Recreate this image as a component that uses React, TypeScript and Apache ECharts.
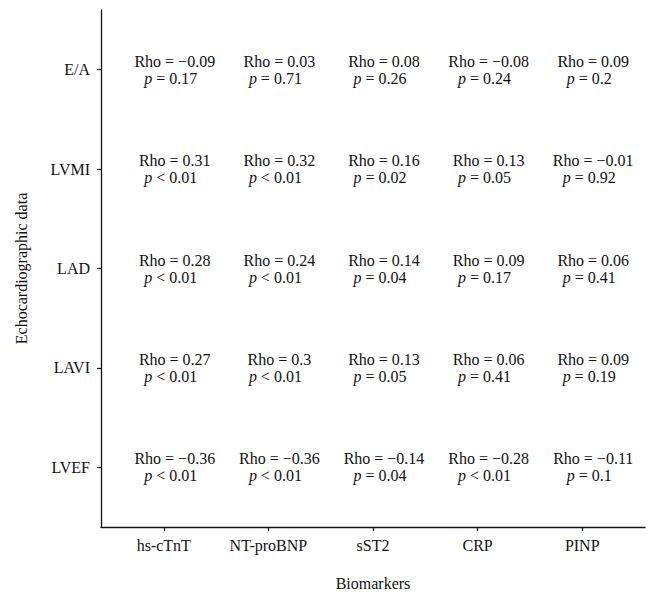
import React, { useEffect, useRef } from "react";
import * as echarts from "echarts";

const biomarkers = ["hs-cTnT", "NT-proBNP", "sST2", "CRP", "PINP"];
// bottom to top
const echoParams = ["LVEF", "LAVI", "LAD", "LVMI", "E/A"];

const rhoLVEF = [-0.36, -0.36, -0.14, -0.28, -0.11];
const pLVEF = ["< 0.01", "< 0.01", "= 0.04", "< 0.01", "= 0.1"];
const rhoLAVI = [0.27, 0.3, 0.13, 0.06, 0.09];
const pLAVI = ["< 0.01", "< 0.01", "= 0.05", "= 0.41", "= 0.19"];
const rhoLAD = [0.28, 0.24, 0.14, 0.09, 0.06];
const pLAD = ["< 0.01", "< 0.01", "= 0.04", "= 0.17", "= 0.41"];
const rhoLVMI = [0.31, 0.32, 0.16, 0.13, -0.01];
const pLVMI = ["< 0.01", "< 0.01", "= 0.02", "= 0.05", "= 0.92"];
const rhoEA = [-0.09, 0.03, 0.08, -0.08, 0.09];
const pEA = ["= 0.17", "= 0.71", "= 0.26", "= 0.24", "= 0.2"];

const rhoRows = [rhoLVEF, rhoLAVI, rhoLAD, rhoLVMI, rhoEA];
const pRows = [pLVEF, pLAVI, pLAD, pLVMI, pEA];

const FONT = "Liberation Serif";
const INK = "#111111";

export default function App() {
  const ref = useRef<HTMLDivElement>(null);
  useEffect(() => {
    if (!ref.current) return;
    const chart = echarts.init(ref.current, null, { renderer: "svg" });
    const data: any[] = [];
    rhoRows.forEach((row, r) => {
      row.forEach((rho, c) => {
        data.push({
          value: [c + 1, r + 1],
          rho: String(rho).replace("-", "\u2212"),
          p: pRows[r][c],
        });
      });
    });
    const tokenBase = {
      fontFamily: FONT,
      fontSize: 16,
      color: INK,
      lineHeight: 17,
      textBorderWidth: 0,
      textShadowBlur: 0,
    };
    chart.setOption({
      animation: false,
      backgroundColor: "#ffffff",
      textStyle: { fontFamily: FONT },
      grid: { left: 101, right: 10, top: 10, bottom: 72, containLabel: false },
      xAxis: {
        type: "value",
        min: 0.4,
        max: 5.6,
        name: "Biomarkers",
        nameLocation: "middle",
        nameGap: 48,
        nameTextStyle: { fontFamily: FONT, fontSize: 16, color: INK },
        splitLine: { show: false },
        axisLine: { show: true, lineStyle: { color: INK, width: 1.3 } },
        axisTick: {
          show: true,
          length: 4,
          customValues: [1, 2, 3, 4, 5],
          lineStyle: { color: INK, width: 1.3 },
        },
        axisLabel: {
          customValues: [1, 2, 3, 4, 5],
          margin: 10,
          fontFamily: FONT,
          fontSize: 16,
          color: INK,
          formatter: (v: number) => biomarkers[Math.round(v) - 1] ?? "",
        },
      },
      yAxis: {
        type: "value",
        min: 0.4,
        max: 5.6,
        name: "Echocardiographic data",
        nameLocation: "middle",
        nameGap: 72,
        nameTextStyle: { fontFamily: FONT, fontSize: 16, color: INK },
        splitLine: { show: false },
        axisLine: { show: true, lineStyle: { color: INK, width: 1.3 } },
        axisTick: {
          show: true,
          length: 4,
          customValues: [1, 2, 3, 4, 5],
          lineStyle: { color: INK, width: 1.3 },
        },
        axisLabel: {
          customValues: [1, 2, 3, 4, 5],
          margin: 11,
          fontFamily: FONT,
          fontSize: 16,
          color: INK,
          formatter: (v: number) => echoParams[Math.round(v) - 1] ?? "",
        },
      },
      series: [
        {
          type: "scatter",
          symbolSize: 1,
          itemStyle: { color: "rgba(255,255,255,0)" },
          data,
          label: {
            show: true,
            position: "inside",
            offset: [11, 0],
            align: "center",
            verticalAlign: "middle",
            opacity: 1,
            ...tokenBase,
            formatter: (p: any) =>
              `{r|Rho = ${p.data.rho}}\n{pi|p}{pv| ${p.data.p}}`,
            rich: {
              r: { ...tokenBase },
              pi: { ...tokenBase, fontStyle: "italic" },
              pv: { ...tokenBase, padding: [0, 8, 0, 0] },
            },
          },
          emphasis: { disabled: true },
        },
      ],
    });
    return () => chart.dispose();
  }, []);
  return <div ref={ref} style={{ width: 655, height: 599, margin: -8 }} />;
}
